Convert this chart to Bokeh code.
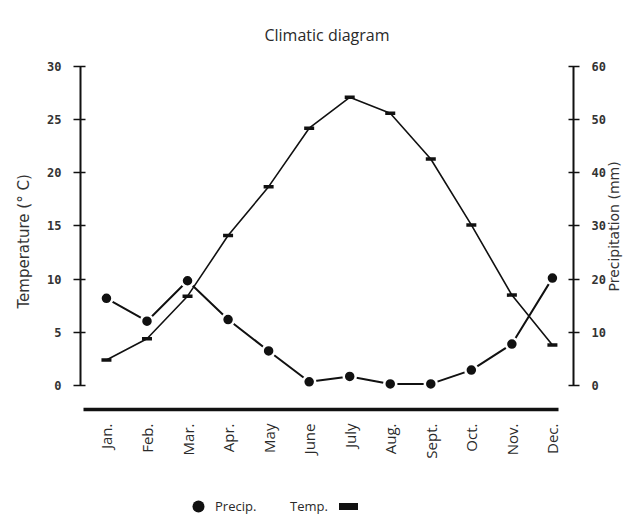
import math
from bokeh.plotting import figure
from bokeh.models import Range1d, LinearAxis, FixedTicker, Legend, LegendItem, Title
from bokeh.embed import file_html
from bokeh.resources import INLINE

# ---- data ----
months = ["Jan.", "Feb.", "Mar.", "Apr.", "May", "June", "July", "Aug.", "Sept.", "Oct.", "Nov.", "Dec."]
temperature = [2.4, 4.4, 8.4, 14.1, 18.7, 24.2, 27.1, 25.6, 21.3, 15.1, 8.5, 3.8]      # deg C
precipitation = [16.4, 12.1, 19.7, 12.4, 6.5, 0.7, 1.7, 0.3, 0.3, 2.9, 7.8, 20.2]     # mm
temp_ticks = [0, 5, 10, 15, 20, 25, 30]
precip_ticks = [0, 10, 20, 30, 40, 50, 60]

x = list(range(1, len(months) + 1))
NAN = [float("nan")]   # legend stand-ins carry no visible data

INK = "#111111"
TXT = "#2a2a2a"

# frame reaches the bottom of the canvas; the month axis sits inside it
p = figure(width=633, height=516, output_backend="svg", toolbar_location=None,
           x_range=Range1d(0.36, 12.52), y_range=Range1d(-12.32, 30),
           min_border_left=80, min_border_right=60, min_border_top=66, min_border_bottom=0)
p.extra_y_ranges = {"precip": Range1d(-24.64, 60)}
p.outline_line_color = None
p.background_fill_color = "white"
p.border_fill_color = "white"
p.xgrid.visible = False
p.ygrid.visible = False

# title
p.title.text = "Climatic diagram"
p.title.align = "center"
p.title.text_font = "Open Sans"
p.title.text_font_size = "16px"
p.title.text_font_style = "normal"
p.title.text_color = TXT
p.title.standoff = 42

# bottom axis (thick rule + vertical month names)
xa = p.xaxis[0]
xa.fixed_location = -2.26
xa.ticker = FixedTicker(ticks=x)
xa.major_label_overrides = {i: m for i, m in zip(x, months)}
xa.major_label_orientation = math.pi / 2
xa.bounds = (0.43, 12.15)
xa.axis_line_width = 3.5
xa.axis_line_color = INK
xa.major_tick_line_color = None
xa.major_tick_out = 0
xa.major_tick_in = 0
xa.minor_tick_line_color = None
xa.major_label_text_font = "Open Sans"
xa.major_label_text_font_size = "15px"
xa.major_label_text_color = TXT
xa.major_label_standoff = 14

# left axis: temperature
ya = p.yaxis[0]
ya.ticker = FixedTicker(ticks=temp_ticks)
ya.bounds = (0, 30)
ya.axis_line_width = 2
ya.axis_line_color = INK
ya.major_tick_in = 5
ya.major_tick_out = 7
ya.major_tick_line_width = 1.5
ya.major_tick_line_color = INK
ya.minor_tick_line_color = None
ya.major_label_text_font = "DejaVu Sans Mono"
ya.major_label_text_font_size = "12px"
ya.major_label_text_font_style = "bold"
ya.major_label_text_color = "#333333"
ya.major_label_standoff = 12

# temperature label as a side title so it can sit level with the 0-30 scale
temp_title = Title(text="Temperature (\u00b0 C)", align="left", offset=208,
                   vertical_align="middle", standoff=22,
                   text_font="DejaVu Sans", text_font_size="15px", text_font_style="normal",
                   text_color="#333333")
p.add_layout(temp_title, "left")

# right axis: precipitation
ra = LinearAxis(y_range_name="precip", ticker=FixedTicker(ticks=precip_ticks))
ra.bounds = (0, 60)
ra.axis_line_width = 2
ra.axis_line_color = INK
ra.major_tick_in = 5
ra.major_tick_out = 6
ra.major_tick_line_width = 1.5
ra.major_tick_line_color = INK
ra.minor_tick_line_color = None
ra.major_label_text_font = "DejaVu Sans Mono"
ra.major_label_text_font_size = "12px"
ra.major_label_text_font_style = "bold"
ra.major_label_text_color = "#333333"
ra.major_label_standoff = 12
ra.axis_label = "Precipitation (mm)"
ra.axis_label_text_font = "DejaVu Sans"
ra.axis_label_text_font_size = "14px"
ra.axis_label_text_font_style = "normal"
ra.axis_label_text_color = "#333333"
ra.axis_label_standoff = 5
ra.axis_label_orientation = math.pi / 2
p.add_layout(ra, "right")

# series
p.line(x, temperature, line_color=INK, line_width=1.6)
p.scatter(x, temperature, marker="dash", size=10, line_color=INK, line_width=3.5)
p.line(x, precipitation, y_range_name="precip", line_color=INK, line_width=2)
p.scatter(x, precipitation, y_range_name="precip", marker="circle", size=12,
          fill_color=INK, line_color="white", line_width=2.5)

# legend glyph stand-ins (no visible data)
leg_circle = p.scatter(x=NAN, y=NAN, marker="circle", fill_color=INK, line_color=None)
leg_space = p.scatter(x=NAN, y=NAN, marker="circle", fill_alpha=0, line_alpha=0)
leg_bar = p.scatter(x=NAN, y=NAN, marker="dash", line_color=INK, line_width=7, line_cap="square")

legend = Legend(items=[LegendItem(label="Precip.", renderers=[leg_circle]),
                       LegendItem(label="Temp.", renderers=[leg_space]),
                       LegendItem(label=" ", renderers=[leg_bar])],
                location=(103, -5), orientation="horizontal",
                glyph_width=30, glyph_height=30, padding=0, margin=0, spacing=0,
                label_standoff=2, label_width=43,
                border_line_color=None, background_fill_alpha=0,
                label_text_font="Open Sans", label_text_font_size="13px", label_text_color=TXT)
p.add_layout(legend)

open("out.html", "w").write(file_html(p, INLINE, "Climatic diagram"))
